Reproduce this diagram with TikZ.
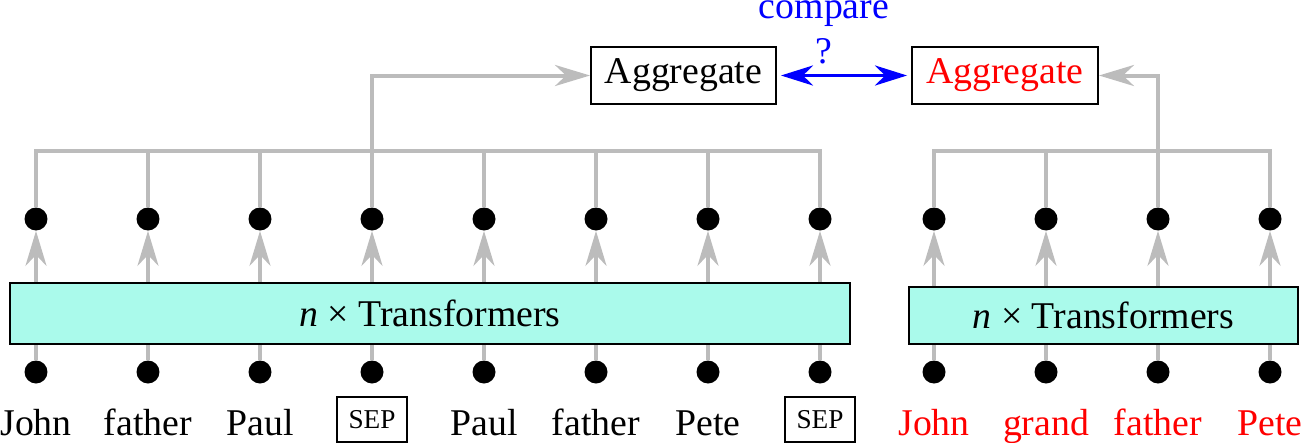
\documentclass[tikz,border=0pt]{standalone}
\usepackage{fontspec}
\setmainfont{Liberation Serif}
\usetikzlibrary{arrows.meta}
\definecolor{linegray}{RGB}{188,188,188}
\definecolor{tfcyan}{RGB}{170,250,235}
\begin{document}
\begin{tikzpicture}[x=0.02cm, y=-0.02cm,
  every node/.style={font=\fontsize{21.5}{25}\selectfont},
  dot/.style={circle, fill=black, inner sep=0pt, minimum size=0.46cm},
  tfbox/.style={rectangle, draw=black, line width=1.1pt, fill=tfcyan},
  aggbox/.style={rectangle, draw=black, line width=1.1pt, minimum width=3.7cm, minimum height=1.14cm},
  sepbox/.style={rectangle, draw=black, line width=1.1pt, font=\fontsize{15.5}{18}\selectfont, minimum width=1.4cm, minimum height=0.9cm},
  word/.style={anchor=base},
  fio/.style={line width=0.08cm, draw=linegray},
  seta/.style={fio, -{Stealth[length=0.7cm, width=0.42cm, inset=0.22cm]}},
  setab/.style={{Stealth[length=0.64cm, width=0.4cm, inset=0.2cm]}-{Stealth[length=0.64cm, width=0.4cm, inset=0.2cm]}, line width=0.07cm, draw=blue, shorten <=0.08cm, shorten >=0.08cm}
]
\useasboundingbox (0,0) rectangle (1302,443);

% Sequencia da esquerda
\node[word] (wl1) at (36,435) {John};
\node[word] (wl2) at (148,435) {father};
\node[word] (wl3) at (260,435) {Paul};
\node[sepbox] (wl4) at (372,419.5) {SEP};
\node[word] (wl5) at (484,435) {Paul};
\node[word] (wl6) at (596,435) {father};
\node[word] (wl7) at (708,435) {Pete};
\node[sepbox] (wl8) at (820,419.5) {SEP};
\node[tfbox, minimum width=16.8cm, minimum height=1.22cm] (tfl) at (430,313.5) {\textit{n} × Transformers};

% Sequencia da direita
\node[word, text=red] (wr1) at (934,435) {John};
\node[word, text=red] (wr2) at (1046,435) {grand};
\node[word, text=red] (wr3) at (1158,435) {father};
\node[word, text=red] (wr4) at (1270,435) {Pete};
\node[tfbox, minimum width=7.78cm, minimum height=1.14cm] (tfr) at (1103.5,315.5) {\textit{n} × Transformers};

% Pontos de entrada e saida
\foreach \i/\x in {1/36, 2/148, 3/260, 4/372, 5/484, 6/596, 7/708, 8/820} {
  \node[dot] (bl\i) at (\x,372) {};
  \node[dot] (tl\i) at (\x,219) {};
  \draw[fio] (bl\i.north) -- (bl\i |- tfl.south);
  \draw[seta] (tfl.north -| tl\i) -- (tl\i.south);
}
\foreach \i/\x in {1/934, 2/1046, 3/1158, 4/1270} {
  \node[dot] (br\i) at (\x,372) {};
  \node[dot] (tr\i) at (\x,219) {};
  \draw[fio] (br\i.north) -- (br\i |- tfr.south);
  \draw[seta] (tfr.north -| tr\i) -- (tr\i.south);
}

% Agregacao
\node[aggbox] (aggl) at (683.5,75.5) {Aggregate};
\node[aggbox, minimum width=3.72cm, text=red] (aggr) at (1005,75.5) {Aggregate};
\coordinate (bus) at (0,151);
\draw[fio] (tl1.north) |- (tl8 |- bus) -- (tl8.north);
\foreach \i in {2,...,7} {\draw[fio] (tl\i.north) -- (tl\i |- bus);}
\draw[seta] (tl4 |- bus) |- (aggl.west);
\draw[fio] (tr1.north) |- (tr4 |- bus) -- (tr4.north);
\foreach \i in {2,3} {\draw[fio] (tr\i.north) -- (tr\i |- bus);}
\draw[seta] (tr3 |- bus) |- (aggr.east);

% Comparacao
\draw[setab] (aggl.east) -- (aggr.west);
\node[anchor=base, text=blue] (qm) at (824,63) {?};
\node[anchor=base, text=blue] (cmp) at (824,18) {compare};
\end{tikzpicture}
\end{document}
